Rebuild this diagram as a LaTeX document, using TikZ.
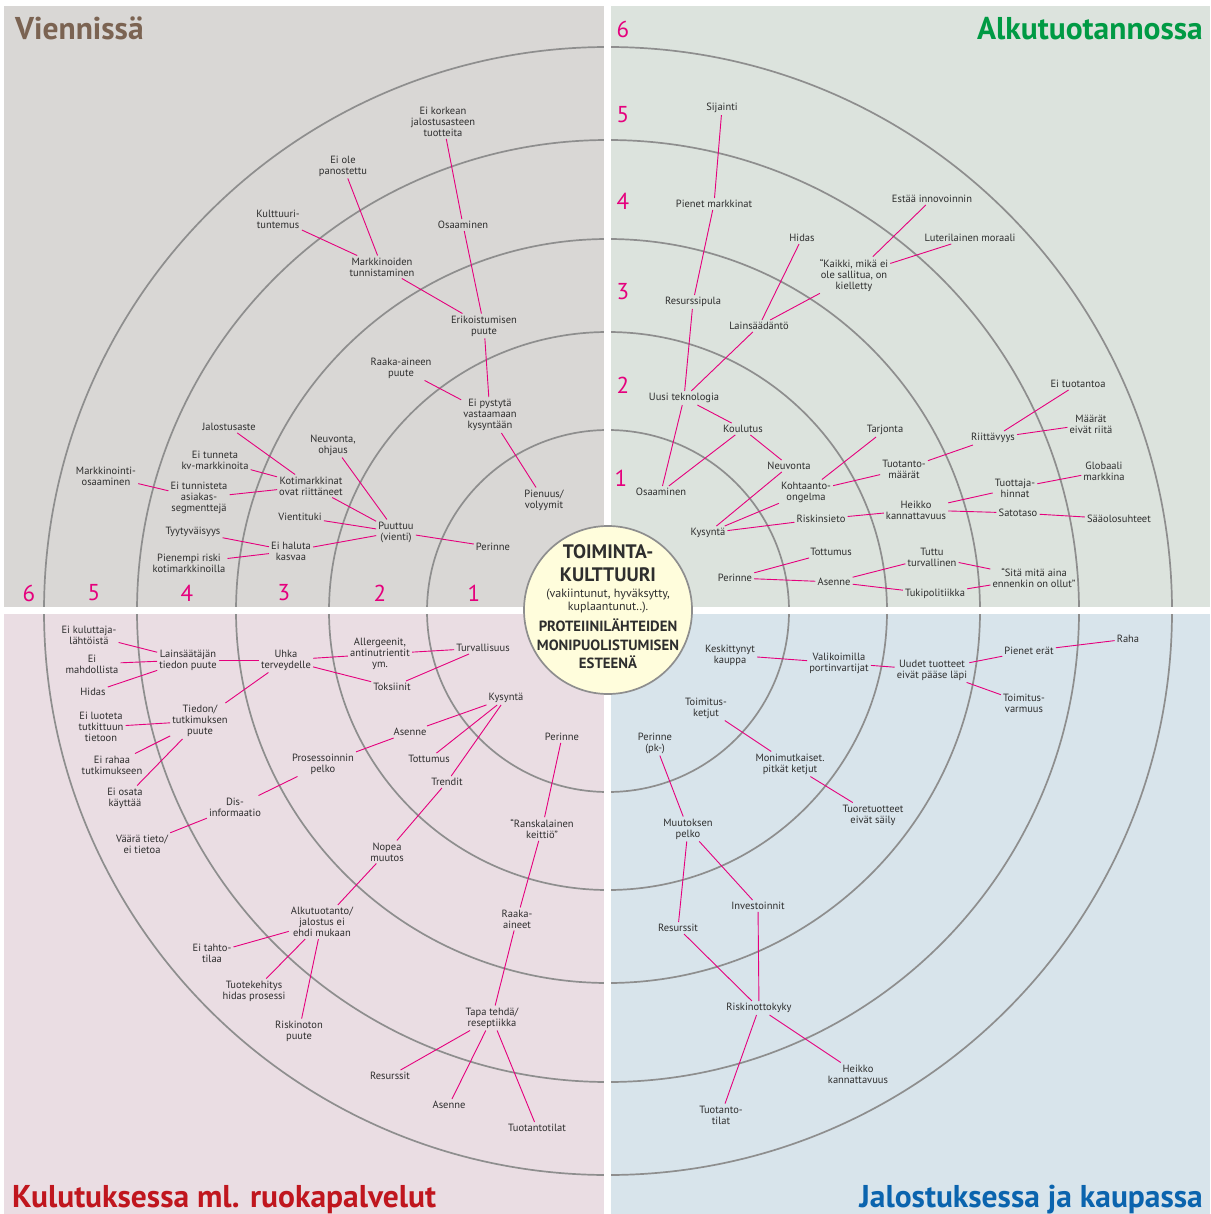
\documentclass[tikz,border=0pt]{standalone}
\usepackage{fontspec}
\setmainfont{PT Sans}
\definecolor{pTL}{HTML}{D9D7D5}
\definecolor{pTR}{HTML}{DCE3DD}
\definecolor{pBL}{HTML}{EADDE3}
\definecolor{pBR}{HTML}{D8E4EB}
\definecolor{cream}{HTML}{FFFDDC}
\definecolor{ringgray}{HTML}{8E8E8E}
\definecolor{mag}{HTML}{E5007D}
\definecolor{txt}{HTML}{2E2E2E}
\definecolor{cbrown}{HTML}{7B6352}
\definecolor{cgreen}{HTML}{009A44}
\definecolor{cred}{HTML}{C0161E}
\definecolor{cblue}{HTML}{0B64AE}
\begin{document}
\begin{tikzpicture}[x=1pt,y=-1pt,
  lbl/.style={align=center, inner sep=2pt, text=txt, font=\fontsize{10.5}{11}\selectfont},
  con/.style={draw=mag, line width=0.9pt},
  ring/.style={draw=ringgray, line width=1.7pt},
  num/.style={text=mag, font=\fontsize{23}{23}\selectfont, inner sep=0pt},
  ttl/.style={font=\fontsize{31.5}{32}\selectfont\bfseries, inner sep=0pt}]
\useasboundingbox (0,0) rectangle (1210,1214);
\fill[white] (0,0) rectangle (1210,1214);
% four sector panels
\fill[pTL] (4,6) rectangle (604,607);
\fill[pTR] (611,6) rectangle (1210,607);
\fill[pBL] (4,614) rectangle (604,1214);
\fill[pBR] (611,614) rectangle (1210,1214);
% level rings
\foreach \r in {181,279,372,471,564}
  \draw[ring] (608,611) circle[radius=\r pt];
% gaps between the sectors
\fill[white] (604,0) rectangle (611,1214);
\fill[white] (0,607) rectangle (1210,614);
% core
\node[circle, draw=ringgray, line width=1.7pt, fill=cream, minimum size=168pt, inner sep=0pt] (core) at (608,610) {};
\node[align=center, text=txt, inner sep=0pt, font=\fontsize{19.5}{23}\selectfont\bfseries] (coreA) at (608,563) {TOIMINTA-\\KULTTUURI};
\node[align=center, text=txt, inner sep=0pt, font=\fontsize{12}{12.5}\selectfont] (coreB) at (608,601) {(vakiintunut, hyväksytty,\\kuplaantunut..).};
\node[align=center, text=txt, inner sep=0pt, font=\fontsize{14.8}{18.7}\selectfont\bfseries] (coreC) at (608,644) {PROTEIINILÄHTEIDEN\\MONIPUOLISTUMISEN\\ESTEENÄ};
% titles
\node[ttl, text=cbrown, anchor=base west] (tTL) at (15,40) {Viennissä};
\node[ttl, text=cgreen, anchor=base east] (tTR) at (1203,40) {Alkutuotannossa};
\node[ttl, text=cred, anchor=base west] (tBL) at (12,1207) {Kulutuksessa ml. ruokapalvelut};
\node[ttl, text=cblue, anchor=base east] (tBR) at (1203,1207) {Jalostuksessa ja kaupassa};
% level numbers
\node[num] (nL6) at (29,593) {6};
\node[num] (nL5) at (94,593) {5};
\node[num] (nL4) at (187,593) {4};
\node[num] (nL3) at (284,593) {3};
\node[num] (nL2) at (380,593) {2};
\node[num] (nL1) at (474,593) {1};
\node[num] (nR1) at (621,478) {1};
\node[num] (nR2) at (623,385) {2};
\node[num] (nR3) at (623,292) {3};
\node[num] (nR4) at (623,201) {4};
\node[num] (nR5) at (623,115) {5};
\node[num] (nR6) at (623,29) {6};

% ---- Viennissä
\node[lbl] (v1) at (443,122) {Ei korkean\\jalostusasteen\\tuotteita};
\node[lbl] (v2) at (343,166) {Ei ole\\panostettu};
\node[lbl] (v3) at (278,219) {Kulttuuri-\\tuntemus};
\node[lbl] (v4) at (463,225) {Osaaminen};
\node[lbl] (v5) at (382,267) {Markkinoiden\\tunnistaminen};
\node[lbl] (v6) at (484,326) {Erikoistumisen\\puute};
\node[lbl] (v7) at (401,368) {Raaka-aineen\\puute};
\node[lbl] (v8) at (490,415) {Ei pystytä\\vastaamaan\\kysyntään};
\node[lbl] (v9) at (229,427) {Jalostusaste};
\node[lbl] (v10) at (333,445) {Neuvonta,\\ohjaus};
\node[lbl] (v11) at (215,460) {Ei tunneta\\kv-markkinoita};
\node[lbl] (v12) at (106,476) {Markkinointi-\\osaaminen};
\node[lbl] (v13) at (311,486) {Kotimarkkinat\\ovat riittäneet};
\node[lbl] (v14) at (199,498) {Ei tunnisteta\\asiakas-\\segmenttejä};
\node[lbl] (v15) at (544,500) {Pienuus/\\volyymit};
\node[lbl] (v16) at (300,517) {Vientituki};
\node[lbl] (v17) at (396,532) {Puuttuu\\(vienti)};
\node[lbl] (v18) at (193,532) {Tyytyväisyys};
\node[lbl] (v19) at (291,551) {Ei haluta\\kasvaa};
\node[lbl] (v20) at (493,547) {Perinne};
\node[lbl] (v21) at (189,563) {Pienempi riski\\kotimarkkinoilla};
\foreach \a/\b in {v1/v4,v4/v6,v2/v5,v3/v5,v5/v6,v6/v8,v7/v8,v8/v15,v9/v13,v11/v13,v14/v13,v12/v14,v13/v17,v10/v17,v16/v17,v17/v20,v17/v19,v18/v19,v21/v19}
  \draw[con] (\a) -- (\b);

% ---- Alkutuotannossa
\node[lbl] (a1) at (722,108) {Sijainti};
\node[lbl] (a2) at (714,204) {Pienet markkinat};
\node[lbl] (a3) at (932,199) {Estää innovoinnin};
\node[lbl] (a4) at (802,238) {Hidas};
\node[lbl] (a5) at (970,238) {Luterilainen moraali};
\node[lbl] (a6) at (854,275) {“Kaikki, mikä ei\\ole sallitua, on\\kielletty};
\node[lbl] (a7) at (693,302) {Resurssipula};
\node[lbl] (a8) at (759,326) {Lainsäädäntö};
\node[lbl] (a9) at (684,398) {Uusi teknologia};
\node[lbl] (a10) at (743,429) {Koulutus};
\node[lbl] (a11) at (885,430) {Tarjonta};
\node[lbl] (a12) at (1078,384) {Ei tuotantoa};
\node[lbl] (a13) at (1091,424) {Määrät\\eivät riitä};
\node[lbl] (a14) at (993,438) {Riittävyys};
\node[lbl] (a15) at (789,466) {Neuvonta};
\node[lbl] (a16) at (904,469) {Tuotanto-\\määrät};
\node[lbl] (a17) at (1104,471) {Globaali\\markkina};
\node[lbl] (a18) at (661,492) {Osaaminen};
\node[lbl] (a19) at (806,492) {Kohtaanto-\\ongelma};
\node[lbl] (a20) at (1015,488) {Tuottaja-\\hinnat};
\node[lbl] (a21) at (916,510) {Heikko\\kannattavuus};
\node[lbl] (a22) at (1018,513) {Satotaso};
\node[lbl] (a23) at (1119,519) {Sääolosuhteet};
\node[lbl] (a24) at (821,519) {Riskinsieto};
\node[lbl] (a25) at (708,533) {Kysyntä};
\node[lbl] (a26) at (831,552) {Tottumus};
\node[lbl] (a27) at (932,557) {Tuttu\\turvallinen};
\node[lbl] (a28) at (1034,578) {“Sitä mitä aina\\ennenkin on ollut”};
\node[lbl] (a29) at (735,578) {Perinne};
\node[lbl] (a30) at (834,582) {Asenne};
\node[lbl] (a31) at (935,594) {Tukipolitiikka};
\foreach \a/\b in {a1/a2,a2/a7,a7/a9,a4/a8,a6/a8,a3/a6,a5/a6,a8/a9,a9/a18,a9/a10,a10/a18,a10/a15,a15/a25,a19/a25,a24/a25,a11/a19,a16/a19,a14/a16,a12/a14,a13/a14,a21/a24,a20/a21,a17/a20,a21/a22,a22/a23,a29/a26,a29/a30,a30/a27,a30/a31,a27/a28,a31/a28}
  \draw[con] (\a) -- (\b);

% ---- Kulutuksessa
\node[lbl] (k1) at (89,635) {Ei kuluttaja-\\lähtöistä};
\node[lbl] (k2) at (92,664) {Ei\\mahdollista};
\node[lbl] (k3) at (93,692) {Hidas};
\node[lbl] (k4) at (188,660) {Lainsäätäjän\\tiedon puute};
\node[lbl] (k5) at (286,660) {Uhka\\terveydelle};
\node[lbl] (k6) at (380,654) {Allergeenit,\\antinutrientit\\ym.};
\node[lbl] (k7) at (483,648) {Turvallisuus};
\node[lbl] (k8) at (392,687) {Toksiinit};
\node[lbl] (k9) at (506,698) {Kysyntä};
\node[lbl] (k10) at (200,721) {Tiedon/\\tutkimuksen\\puute};
\node[lbl] (k11) at (101,727) {Ei luoteta\\tutkittuun\\tietoon};
\node[lbl] (k12) at (410,732) {Asenne};
\node[lbl] (k13) at (562,737) {Perinne};
\node[lbl] (k14) at (323,764) {Prosessoinnin\\pelko};
\node[lbl] (k15) at (112,765) {Ei rahaa\\tutkimukseen};
\node[lbl] (k16) at (429,759) {Tottumus};
\node[lbl] (k17) at (447,782) {Trendit};
\node[lbl] (k18) at (125,798) {Ei osata\\käyttää};
\node[lbl] (k19) at (235,807) {Dis-\\informaatio};
\node[lbl] (k20) at (542,829) {“Ranskalainen\\keittiö”};
\node[lbl] (k21) at (142,844) {Väärä tieto/\\ei tietoa};
\node[lbl] (k22) at (387,852) {Nopea\\muutos};
\node[lbl] (k23) at (322,922) {Alkutuotanto/\\jalostus ei\\ehdi mukaan};
\node[lbl] (k24) at (517,919) {Raaka-\\aineet};
\node[lbl] (k25) at (212,953) {Ei tahto-\\tilaa};
\node[lbl] (k26) at (254,991) {Tuotekehitys\\hidas prosessi};
\node[lbl] (k27) at (299,1031) {Riskinoton\\puute};
\node[lbl] (k28) at (492,1018) {Tapa tehdä/\\reseptiikka};
\node[lbl] (k29) at (390,1076) {Resurssit};
\node[lbl] (k30) at (449,1105) {Asenne};
\node[lbl] (k31) at (537,1128) {Tuotantotilat};
\foreach \a/\b in {k1/k4,k2/k4,k3/k4,k4/k5,k5/k6,k5/k8,k6/k7,k8/k7,k5/k10,k10/k11,k10/k15,k10/k18,k9/k12,k9/k16,k9/k17,k12/k14,k14/k19,k19/k21,k17/k22,k22/k23,k13/k20,k20/k24,k24/k28,k23/k25,k23/k26,k23/k27,k28/k29,k28/k30,k28/k31}
  \draw[con] (\a) -- (\b);

% ---- Jalostuksessa ja kaupassa
\node[lbl] (j1) at (730,655) {Keskittynyt\\kauppa};
\node[lbl] (j2) at (839,663) {Valikoimilla\\portinvartijat};
\node[lbl] (j3) at (932,670) {Uudet tuotteet\\eivät pääse läpi};
\node[lbl] (j4) at (1029,651) {Pienet erät};
\node[lbl] (j5) at (1128,639) {Raha};
\node[lbl] (j6) at (1024,703) {Toimitus-\\varmuus};
\node[lbl] (j7) at (706,708) {Toimitus-\\ketjut};
\node[lbl] (j8) at (655,743) {Perinne\\(pk-)};
\node[lbl] (j9) at (790,764) {Monimutkaiset.\\pitkät ketjut};
\node[lbl] (j10) at (873,815) {Tuoretuotteet\\eivät säily};
\node[lbl] (j11) at (688,829) {Muutoksen\\pelko};
\node[lbl] (j12) at (758,906) {Investoinnit};
\node[lbl] (j13) at (678,928) {Resurssit};
\node[lbl] (j14) at (759,1008) {Riskinottokyky};
\node[lbl] (j15) at (858,1074) {Heikko\\kannattavuus};
\node[lbl] (j16) at (721,1115) {Tuotanto-\\tilat};
\foreach \a/\b in {j1/j2,j2/j3,j3/j4,j4/j5,j3/j6,j7/j9,j9/j10,j8/j11,j11/j13,j11/j12,j12/j14,j13/j14,j14/j16,j14/j15}
  \draw[con] (\a) -- (\b);
\end{tikzpicture}
\end{document}
